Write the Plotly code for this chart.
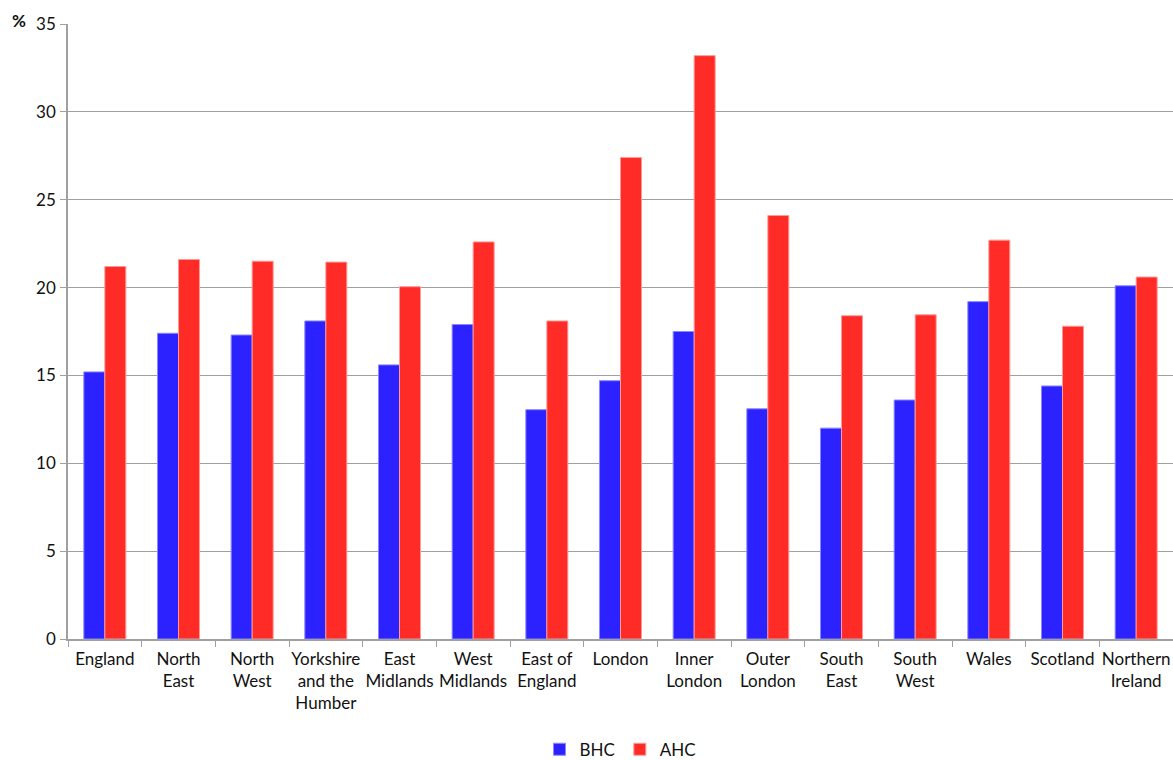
import plotly.graph_objects as go

categories = ["England", "North<br>East", "North<br>West", "Yorkshire<br>and the<br>Humber",
              "East<br>Midlands", "West<br>Midlands", "East of<br>England", "London",
              "Inner<br>London", "Outer<br>London", "South<br>East", "South<br>West",
              "Wales", "Scotland", "Northern<br>Ireland"]
bhc = [15.2, 17.4, 17.3, 18.1, 15.6, 17.9, 13.05, 14.7, 17.5, 13.1, 12.0, 13.6, 19.2, 14.4, 20.1]
ahc = [21.2, 21.6, 21.5, 21.45, 20.05, 22.6, 18.1, 27.4, 33.2, 24.1, 18.4, 18.45, 22.7, 17.8, 20.6]
y_ticks = [0, 5, 10, 15, 20, 25, 30, 35]

FONT = "Lato"

fig = go.Figure()
fig.add_trace(go.Bar(x=categories, y=bhc, name="BHC",
                     marker=dict(color="#2b22ff", line=dict(color="#8a86ff", width=1))))
fig.add_trace(go.Bar(x=categories, y=ahc, name="AHC",
                     marker=dict(color="#ff2b27", line=dict(color="#ff9a97", width=1))))

fig.update_layout(
    width=1173, height=760,
    margin=dict(l=68, r=0, t=24, b=121, autoexpand=False),
    paper_bgcolor="white", plot_bgcolor="white",
    barmode="group", bargap=0.43, bargroupgap=0,
    font=dict(family=FONT, size=17, color="#111111"),
    showlegend=True,
    legend=dict(orientation="h", x=0.5, xanchor="center", y=-0.18, yanchor="middle",
                font=dict(size=17), itemwidth=30, traceorder="normal"),
    xaxis=dict(showline=True, linecolor="#a0a0a0", linewidth=1.5,
               ticks="outside", tickson="boundaries", ticklen=6, tickcolor="#a0a0a0",
               tickfont=dict(size=17), tickangle=0, showgrid=False, ticklabelstandoff=4),
    yaxis=dict(range=[0, 35], tickvals=y_ticks, showline=True, linecolor="#a0a0a0", linewidth=1.5,
               ticks="outside", ticklen=6, tickcolor="#a0a0a0",
               showgrid=True, gridcolor="#a0a0a0", gridwidth=1.3, zeroline=False,
               tickfont=dict(size=17), ticklabelstandoff=1),
    annotations=[dict(text="<b>%</b>", xref="paper", yref="paper", x=-0.036, y=1.005,
                      xanchor="right", yanchor="middle", showarrow=False,
                      font=dict(size=17, family=FONT))],
)

fig.write_html("out.html", config={"displayModeBar": False},
               post_script="document.body.style.margin='0';document.body.style.overflow='hidden';")
